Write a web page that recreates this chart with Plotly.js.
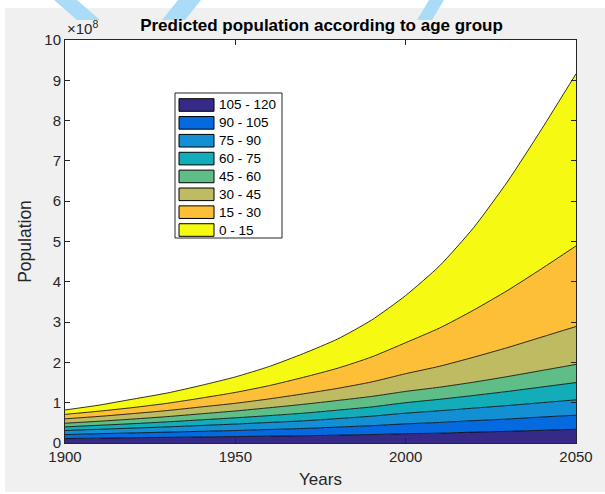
<!DOCTYPE html>
<html>
<head>
<meta charset="utf-8">
<script src="https://cdn.plot.ly/plotly-3.0.1.min.js"></script>
<style>
  html, body { margin: 0; padding: 0; background: #ffffff; }
  #chart { width: 605px; height: 494px; }
</style>
</head>
<body>
<div id="chart"></div>
<script>
// Years sampled along the projection
const years = [1900, 1910, 1920, 1930, 1940, 1950, 1960, 1970, 1980, 1990, 2000, 2010, 2020, 2030, 2040, 2050];

// Population per age group, in units of 1e8 people
const age105_120 = [0.11, 0.12, 0.13, 0.14, 0.15, 0.16, 0.17, 0.18, 0.195, 0.21, 0.23, 0.245, 0.27, 0.29, 0.315, 0.34];
const age90_105  = [0.10, 0.11, 0.12, 0.13, 0.14, 0.15, 0.165, 0.18, 0.20, 0.22, 0.245, 0.265, 0.285, 0.305, 0.33, 0.35];
const age75_90   = [0.10, 0.11, 0.12, 0.13, 0.145, 0.16, 0.175, 0.19, 0.21, 0.235, 0.265, 0.29, 0.31, 0.335, 0.355, 0.38];
const age60_75   = [0.09, 0.10, 0.11, 0.125, 0.14, 0.155, 0.17, 0.19, 0.21, 0.23, 0.26, 0.285, 0.315, 0.35, 0.39, 0.43];
const age45_60   = [0.09, 0.10, 0.115, 0.13, 0.15, 0.17, 0.195, 0.22, 0.24, 0.26, 0.28, 0.30, 0.33, 0.37, 0.41, 0.45];
const age30_45   = [0.11, 0.12, 0.135, 0.15, 0.17, 0.19, 0.22, 0.26, 0.30, 0.36, 0.44, 0.52, 0.62, 0.72, 0.83, 0.94];
const age15_30   = [0.11, 0.13, 0.15, 0.18, 0.22, 0.27, 0.33, 0.41, 0.50, 0.62, 0.77, 0.95, 1.17, 1.42, 1.70, 2.00];
const age0_15    = [0.11, 0.15, 0.21, 0.255, 0.315, 0.385, 0.475, 0.59, 0.725, 0.915, 1.17, 1.545, 2.05, 2.71, 3.47, 4.27];

const xTicks = [1900, 1950, 2000, 2050];
const yTicks = [0, 1, 2, 3, 4, 5, 6, 7, 8, 9, 10];

const groupNames = ['105 - 120', '90 - 105', '75 - 90', '60 - 75', '45 - 60', '30 - 45', '15 - 30', '0 - 15'];
const groupValues = [age105_120, age90_105, age75_90, age60_75, age45_60, age30_45, age15_30, age0_15];
const groupColors = ['#352a87', '#0569e0', '#1390d4', '#12adb9', '#5fbd87', '#bfbb62', '#fdbe38', '#f6f912'];

const FONT = 'Liberation Sans, Arial, Helvetica, sans-serif';
const W = 605, H = 494;
const M = { l: 65, r: 29, t: 40, b: 51 };
const plotW = W - M.l - M.r, plotH = H - M.t - M.b;
// pixel -> paper coordinate helpers for the legend box and frame pieces
const px = x => (x - M.l) / plotW;
const py = y => (H - M.b - y) / plotH;

const traces = groupNames.map((name, i) => ({
  type: 'scatter',
  mode: 'lines',
  x: years,
  y: groupValues[i],
  name: name,
  stackgroup: 'pop',
  fillcolor: groupColors[i],
  line: { color: '#000000', width: 0.8, shape: 'spline', smoothing: 0.6 },
  showlegend: false
}));

const axisCommon = {
  showline: true,
  mirror: 'ticks',
  linecolor: '#262626',
  linewidth: 1,
  ticks: 'inside',
  ticklen: 5,
  tickcolor: '#262626',
  showgrid: false,
  zeroline: false,
  tickfont: { family: FONT, size: 15, color: '#262626' }
};

// Legend drawn as a boxed list of swatches, top entry first
const shapes = [];
const annotations = [];
const legL = 175, legR = 282, legT = 93, legB = 238;
shapes.push({ type: 'rect', xref: 'paper', yref: 'paper', layer: 'above',
  x0: px(legL), x1: px(legR), y0: py(legB), y1: py(legT),
  fillcolor: '#ffffff', line: { color: '#262626', width: 1 } });
groupNames.forEach((name, i) => {
  const cy = 105 + i * 17.86;
  shapes.push({ type: 'rect', xref: 'paper', yref: 'paper', layer: 'above',
    x0: px(179), x1: px(214), y0: py(cy + 6.3), y1: py(cy - 6.3),
    fillcolor: groupColors[i], line: { color: '#000000', width: 1 } });
  annotations.push({ xref: 'paper', yref: 'paper', x: px(217), y: py(cy),
    xanchor: 'left', yanchor: 'middle', showarrow: false, text: name,
    font: { family: FONT, size: 13.5, color: '#000000' } });
});

// White page margin around the grey figure window
[[0, 0, W, 8], [0, 0, 5, H], [0, 492, W, H]].forEach(r => {
  shapes.push({ type: 'rect', xref: 'paper', yref: 'paper', layer: 'above',
    x0: px(r[0]), x1: px(r[2]), y0: py(r[3]), y1: py(r[1]),
    fillcolor: '#ffffff', line: { width: 0 } });
});

// Pale blue page decoration strokes along the top edge
const strokes = [
  [[54, 0], [77, 0], [100, 20], [77, 20]],
  [[178, 0], [201, 0], [185, 20], [162, 20]],
  [[429, 0], [444, 0], [432, 20], [417, 20]]
];
strokes.forEach(pts => {
  const path = pts.map((p, k) => (k ? 'L' : 'M') + px(p[0]) + ',' + py(p[1])).join(' ') + ' Z';
  shapes.push({ type: 'path', xref: 'paper', yref: 'paper', layer: 'above',
    path: path, fillcolor: '#aadcf7', line: { width: 0 } });
});

// Axis exponent
annotations.push({
  xref: 'paper', yref: 'paper', x: 0, y: 1,
  xanchor: 'left', yanchor: 'bottom', yshift: 1, xshift: 0,
  text: '×10<sup>8</sup>', showarrow: false,
  font: { family: FONT, size: 15, color: '#262626' }
});

const layout = {
  width: W,
  height: H,
  paper_bgcolor: '#f0f0f0',
  plot_bgcolor: '#ffffff',
  margin: M,
  title: {
    text: 'Predicted population according to age group',
    font: { family: FONT, size: 17, color: '#000000', weight: 'bold' },
    x: 321.5 / W, xref: 'container', xanchor: 'center',
    y: 1 - 25 / H, yanchor: 'middle'
  },
  xaxis: Object.assign({}, axisCommon, {
    range: [1900, 2050],
    tickvals: xTicks,
    title: { text: 'Years', font: { family: FONT, size: 17, color: '#262626' }, standoff: 9 }
  }),
  yaxis: Object.assign({}, axisCommon, {
    range: [0, 10],
    tickvals: yTicks,
    title: { text: 'Population', font: { family: FONT, size: 17.5, color: '#262626' }, standoff: 8 }
  }),
  shapes: shapes,
  annotations: annotations,
  showlegend: false
};

Plotly.newPlot('chart', traces, layout, { displayModeBar: false, staticPlot: true });
</script>
</body>
</html>
